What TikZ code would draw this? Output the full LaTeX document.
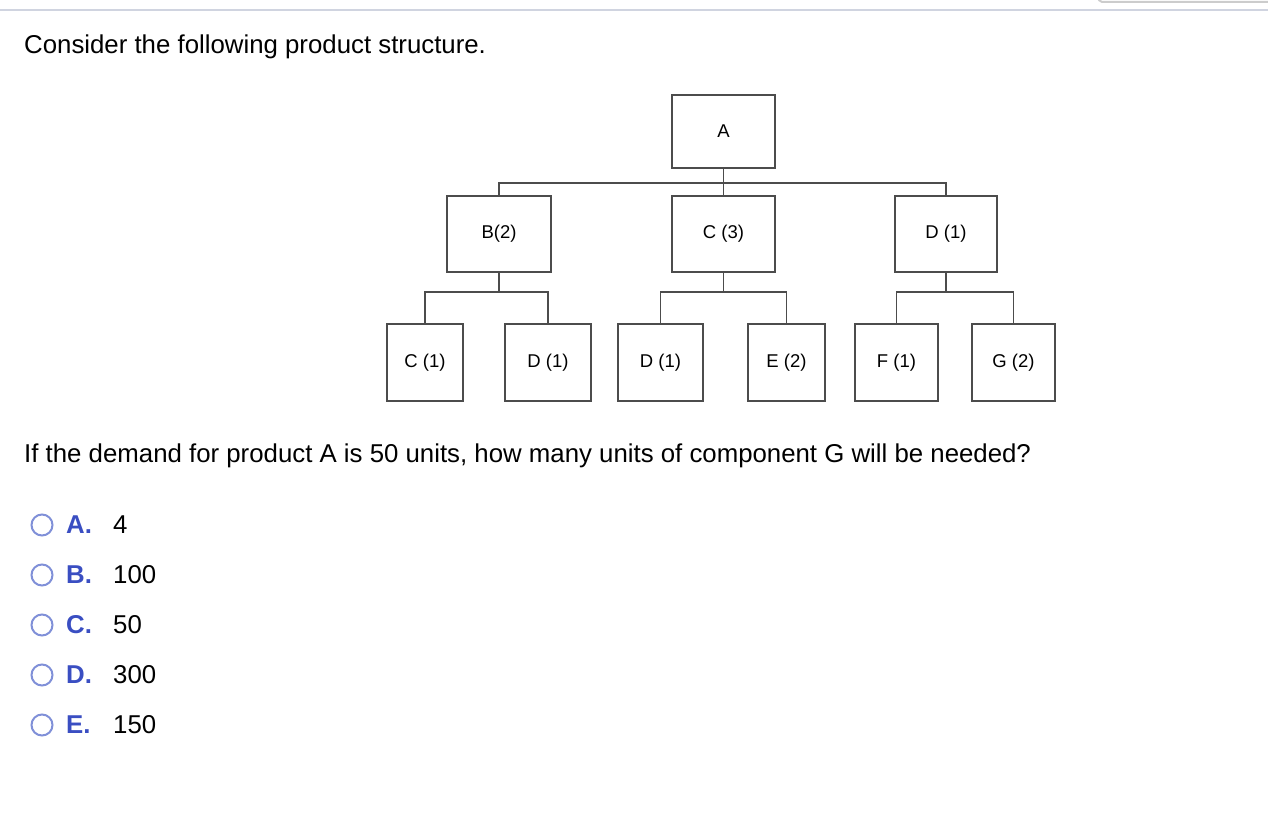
\documentclass[tikz,border=0pt]{standalone}
\usepackage{fontspec}
\setmainfont{Liberation Sans}
\definecolor{optblue}{HTML}{3A4EC2}
\definecolor{radio}{HTML}{8090D8}
\definecolor{linegray}{HTML}{D0D4E0}
\begin{document}
\begin{tikzpicture}[x=1pt,y=-1pt,
  bx/.style={draw=black!70,line width=1.2pt,minimum width=0pt,minimum height=0pt,inner sep=0pt,font=\fontsize{18.5}{22}\selectfont},
  ln/.style={draw=black!70,line width=1.2pt},
  qtext/.style={anchor=west,font=\fontsize{25.8}{30}\selectfont,inner sep=0pt},
  opt/.style={anchor=west,font=\fontsize{25.8}{30}\selectfont,inner sep=0pt},
  rad/.style={draw=radio,line width=2pt,circle,minimum size=21pt,inner sep=0pt}]
\useasboundingbox (0,0) rectangle (1268,816);
\draw[linegray,line width=2pt] (0,10) -- (1268,10);
\draw[black!20,line width=2pt,rounded corners=2pt] (1098,-2) -- (1100,2) -- (1270,2);
\node[qtext] (q1) at (24,47) {Consider the following product structure.};
% boxes
\node[bx,minimum width=103pt,minimum height=73pt] (A) at (723.5,131.5) {A};
\node[bx,minimum width=104pt,minimum height=76pt] (B) at (499,234) {B(2)};
\node[bx,minimum width=103pt,minimum height=76pt] (C) at (723.5,234) {C (3)};
\node[bx,minimum width=102pt,minimum height=76pt] (D) at (946,234) {D (1)};
\node[bx,minimum width=76pt,minimum height=77pt] (C1) at (425,362.5) {C (1)};
\node[bx,minimum width=86pt,minimum height=77pt] (D1) at (548,362.5) {D (1)};
\node[bx,minimum width=85pt,minimum height=77pt] (D2) at (660.5,362.5) {D (1)};
\node[bx,minimum width=77pt,minimum height=77pt] (E2) at (786.5,362.5) {E (2)};
\node[bx,minimum width=83pt,minimum height=77pt] (F1) at (896.5,362.5) {F (1)};
\node[bx,minimum width=83pt,minimum height=77pt] (G2) at (1013.5,362.5) {G (2)};
% connectors
\coordinate (ja) at (723.5,183);
\draw[ln] (A.south) -- (ja);
\draw[ln] (B.north) |- (ja) -| (D.north);
\draw[ln] (ja) -- (C.north);
\coordinate (jb) at (499,292);
\coordinate (jc) at (723.5,292);
\coordinate (jd) at (946,292);
\draw[ln] (B.south) -- (jb);
\draw[ln] (C1.north) |- (jb) -| (D1.north);
\draw[ln] (C.south) -- (jc);
\draw[ln] (D2.north) |- (jc) -| (E2.north);
\draw[ln] (D.south) -- (jd);
\draw[ln] (F1.north) |- (jd) -| (G2.north);
\node[qtext] (q2) at (24,456) {If the demand for product A is 50 units, how many units of component G will be needed?};
% options
\foreach \n/\y/\l/\v in {oa/525/A./4, ob/575/B./100, oc/625/C./50, od/675/D./300, oe/725/E./150}{
  \node[rad] (r\n) at (42,\y) {};
  \node[opt,text=optblue,font=\fontsize{25.8}{30}\selectfont\bfseries] (l\n) at (66,\y) {\l};
  \node[opt] (v\n) at (113,\y) {\v};
}
\end{tikzpicture}
\end{document}
